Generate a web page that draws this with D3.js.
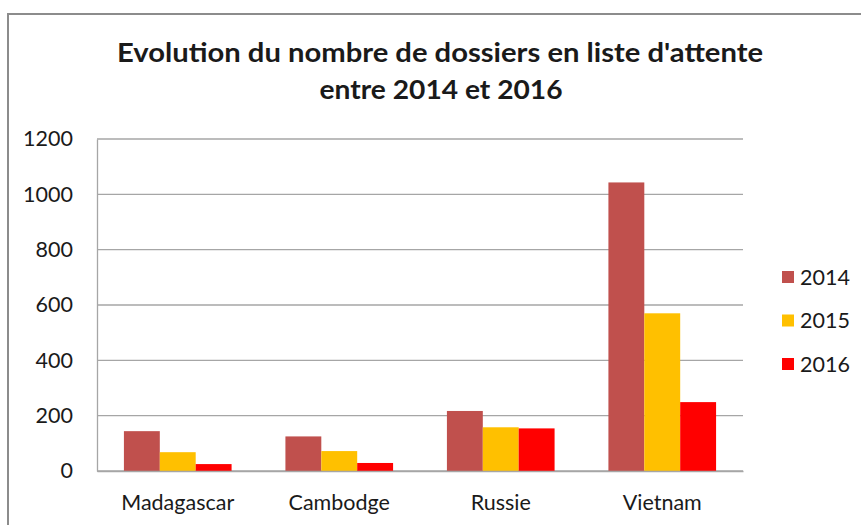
<!DOCTYPE html>
<html>
<head>
<meta charset="utf-8">
<script src="https://cdn.jsdelivr.net/npm/d3@7"></script>
<style>
  body { margin: 0; background: #fff; }
  text { font-family: Lato, "Open Sans", sans-serif; fill: #1a1a1a; }
</style>
</head>
<body>
<div id="chart"></div>
<script>
// data
var categories = ["Madagascar", "Cambodge", "Russie", "Vietnam"];
var years = ["2014", "2015", "2016"];
var values2014 = [144, 125, 217, 1043];
var values2015 = [68, 72, 158, 570];
var values2016 = [25, 29, 154, 249];
var yTicks = [0, 200, 400, 600, 800, 1000, 1200];
var colors = ["#C0504D", "#FFC000", "#FF0000"];

var series = [values2014, values2015, values2016];

var width = 861, height = 525;
var margin = { top: 139, right: 118, bottom: 54, left: 97 };

var svg = d3.select("#chart").append("svg")
    .attr("width", width)
    .attr("height", height);

// chart frame
svg.append("rect")
    .attr("x", 8).attr("y", 14)
    .attr("width", 870).attr("height", 530)
    .attr("fill", "none")
    .attr("stroke", "#8c8c8c")
    .attr("stroke-width", 2);

// title
var title = svg.append("text")
    .attr("text-anchor", "middle")
    .attr("font-weight", "bold")
    .attr("font-size", 27);
title.append("tspan").attr("x", 440).attr("y", 62)
    .attr("textLength", 646).attr("lengthAdjust", "spacingAndGlyphs")
    .text("Evolution du nombre de dossiers en liste d'attente");
title.append("tspan").attr("x", 441).attr("y", 99)
    .attr("textLength", 243).attr("lengthAdjust", "spacingAndGlyphs")
    .text("entre 2014 et 2016");

var g = svg.append("g")
    .attr("transform", "translate(" + margin.left + "," + margin.top + ")");

var w = width - margin.left - margin.right,
    h = height - margin.top - margin.bottom;

var x0 = d3.scaleBand()
    .domain(categories)
    .range([0, w]);

// gap width 150% -> three bars fill 2/3 of the band... 3/(3+1.5)
var x1 = d3.scaleBand()
    .domain(years)
    .range([0, x0.bandwidth() * 2 / 3])
    .padding(0);

var y = d3.scaleLinear()
    .domain([0, 1200])
    .range([h, 0]);

// gridlines
g.selectAll(".grid")
    .data(yTicks)
    .enter()
    .append("line")
    .attr("x1", 0).attr("x2", w)
    .attr("y1", function (d) { return y(d); })
    .attr("y2", function (d) { return y(d); })
    .attr("stroke", "#a6a6a6")
    .attr("stroke-width", 1.3);

// y axis
var yAxis = d3.axisLeft(y).tickValues(yTicks).tickFormat(d3.format("d"))
    .tickSize(0).tickPadding(24);
var gy = g.append("g").call(yAxis);
gy.select(".domain").attr("stroke", "#a6a6a6").attr("stroke-width", 1.3);
gy.selectAll("text").attr("font-size", 21.5).style("fill", "#1a1a1a")
    .style("font-family", "Lato, sans-serif");

// bars
var groups = g.selectAll(".group")
    .data(categories)
    .enter()
    .append("g")
    .attr("transform", function (d) {
        return "translate(" + (x0(d) + x0.bandwidth() / 6) + ",0)";
    });

groups.selectAll("rect")
    .data(function (d, i) {
        return years.map(function (yr, j) {
            return { year: yr, value: series[j][i], color: colors[j] };
        });
    })
    .enter()
    .append("rect")
    .attr("x", function (d) { return x1(d.year); })
    .attr("width", x1.bandwidth())
    .attr("y", function (d) { return y(d.value); })
    .attr("height", function (d) { return h - y(d.value); })
    .attr("fill", function (d) { return d.color; });

// x axis
var xAxis = d3.axisBottom(x0).tickSize(0).tickPadding(24);
var gx = g.append("g")
    .attr("transform", "translate(0," + h + ")")
    .call(xAxis);
gx.select(".domain").attr("stroke", "#a6a6a6").attr("stroke-width", 1.3);
gx.selectAll("text").attr("font-size", 21.5).style("fill", "#1a1a1a")
    .style("font-family", "Lato, sans-serif");

// legend
var legend = svg.selectAll(".legend")
    .data(years)
    .enter()
    .append("g")
    .attr("transform", function (d, i) {
        return "translate(782," + (277 + i * 43.5) + ")";
    });
legend.append("rect")
    .attr("x", 0).attr("y", -6)
    .attr("width", 12).attr("height", 12)
    .attr("fill", function (d, i) { return colors[i]; });
legend.append("text")
    .attr("x", 18).attr("y", 0)
    .attr("dy", "0.35em")
    .attr("font-size", 21.5)
    .text(function (d) { return d; });
</script>
</body>
</html>
